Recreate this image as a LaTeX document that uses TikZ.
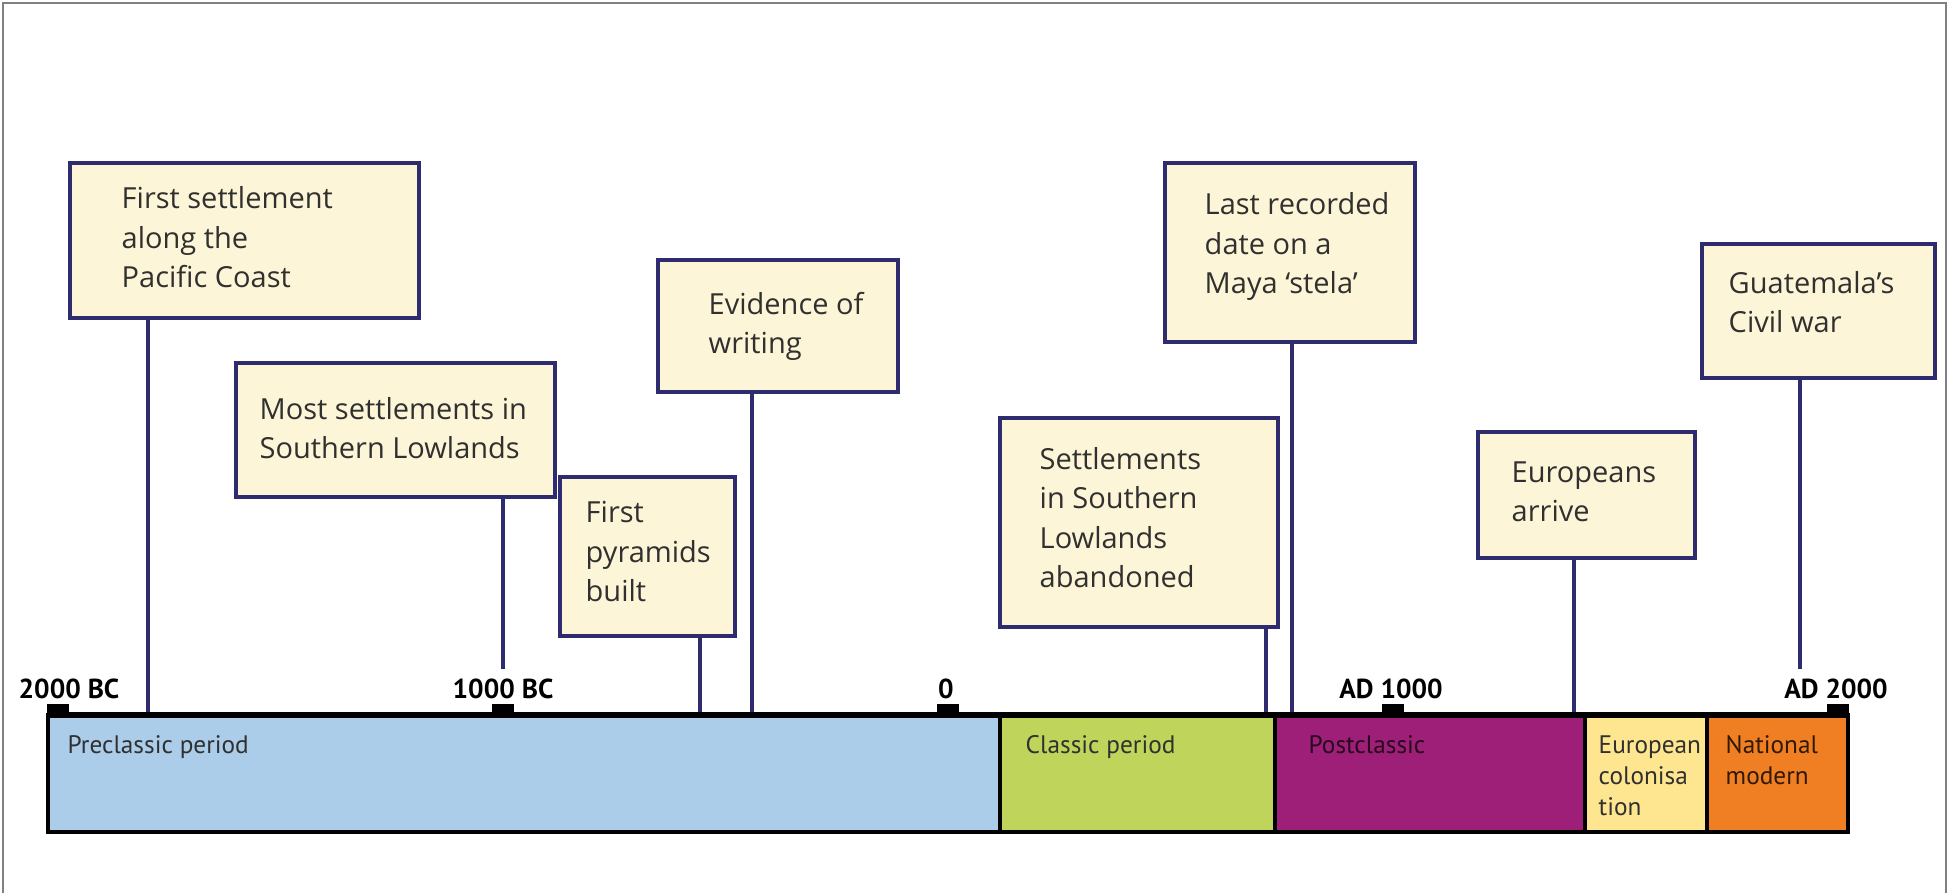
\documentclass[tikz,border=0pt]{standalone}
\usepackage{fontspec}
\usetikzlibrary{positioning}
\newfontfamily\boxfont{Open Sans}
\newfontfamily\periodfont{PT Sans}
\definecolor{boxfill}{HTML}{FDF5D7}
\definecolor{boxline}{HTML}{2E2C6E}
\definecolor{textgray}{HTML}{303030}
\definecolor{preblue}{HTML}{ABCDEA}
\definecolor{classicgreen}{HTML}{BFD45B}
\definecolor{postpurple}{HTML}{9D1F77}
\definecolor{euroyellow}{HTML}{FEE58F}
\definecolor{natorange}{HTML}{F07F23}

\begin{document}
\begin{tikzpicture}[x=0.1mm,y=-0.1mm,
				eventbox/.style={rectangle,draw=boxline,fill=boxfill,line width=0.4mm,outer sep=0pt,anchor=north west},
				eventtext/.style={font=\boxfont\fontsize{8.25}{11.1}\selectfont,text=textgray,align=left,inner sep=0pt},
				period/.style={rectangle,draw=black,line width=0.35mm,outer sep=0pt,minimum height=11.7mm},
				periodtext/.style={font=\periodfont\fontsize{7.2}{8.8}\selectfont,text=textgray,align=left,inner sep=0pt},
				yearlabel/.style={font=\periodfont\bfseries\fontsize{7.8}{9}\selectfont,anchor=base,fill=white,inner xsep=0pt,inner ysep=0.9mm,text depth=0.5mm},
				stem/.style={draw=boxline,line width=0.33mm}]
				\useasboundingbox (0,0) rectangle (1948,893);
				\draw[gray,line width=0.15mm] (3,893) -- (3,3) -- (1946,3) -- (1946,893);
				
				% periods
				\node[period,fill=preblue,minimum width=95.2mm,anchor=north west] (Pre) at (48,715) {};
				\node[period,fill=classicgreen,minimum width=27.5mm,right=0pt of Pre] (Classic) {};
				\node[period,fill=postpurple,minimum width=31mm,right=0pt of Classic] (Post) {};
				\node[period,fill=euroyellow,minimum width=12.2mm,right=0pt of Post] (Colonial) {};
				\node[period,fill=natorange,minimum width=14.1mm,right=0pt of Colonial] (Modern) {};
				
				% base west of a multi-line text is its last baseline
				\node[periodtext,below right=3.8mm and 1.9mm of Pre.north west,anchor=base west] (PreText) {Preclassic period};
				\node[periodtext,below right=3.8mm and 2.5mm of Classic.north west,anchor=base west] (ClassicText) {Classic period};
				\node[periodtext,text=black!75!postpurple,below right=3.8mm and 3.3mm of Post.north west,anchor=base west] (PostText) {Postclassic};
				\node[periodtext,below right=10mm and 1.3mm of Colonial.north west,anchor=base west] (ColonialText) {European\\colonisa\\tion};
				\node[periodtext,text=black!80!natorange,below right=6.9mm and 1.8mm of Modern.north west,anchor=base west] (ModernText) {National\\modern};
				
				% events
				\node[eventbox,minimum width=34.9mm,minimum height=15.5mm] (Settle) at (70,163) {};
				\node[eventbox,minimum width=31.9mm,minimum height=13.4mm] (Most) at (236,363) {};
				\node[eventbox,minimum width=17.5mm,minimum height=15.9mm] (Pyramids) at (560,477) {};
				\node[eventbox,minimum width=24mm,minimum height=13.2mm] (Writing) at (658,260) {};
				\node[eventbox,minimum width=27.8mm,minimum height=20.9mm] (Abandon) at (1000,418) {};
				\node[eventbox,minimum width=25mm,minimum height=17.9mm] (Stela) at (1165,163) {};
				\node[eventbox,minimum width=21.7mm,minimum height=12.6mm] (Europe) at (1478,432) {};
				\node[eventbox,minimum width=23.3mm,minimum height=13.4mm] (Civil) at (1702,244) {};
				
				\node[eventtext,below right=12.4mm and 5.1mm of Settle.north west,anchor=base west] (SettleText) {First settlement\\along the\\Pacific Coast};
				\node[eventtext,below right=9.5mm and 2.3mm of Most.north west,anchor=base west] (MostText) {Most settlements in\\Southern Lowlands};
				\node[eventtext,below right=12.4mm and 2.5mm of Pyramids.north west,anchor=base west] (PyramidsText) {First\\pyramids\\built};
				\node[eventtext,below right=9.3mm and 5mm of Writing.north west,anchor=base west] (WritingText) {Evidence of\\writing};
				\node[eventtext,below right=16.9mm and 3.9mm of Abandon.north west,anchor=base west] (AbandonText) {Settlements\\in Southern\\Lowlands\\abandoned};
				\node[eventtext,below right=13mm and 3.9mm of Stela.north west,anchor=base west] (StelaText) {Last recorded\\date on a\\Maya ‘stela’};
				\node[eventtext,below right=8.9mm and 3.3mm of Europe.north west,anchor=base west] (EuropeText) {Europeans\\arrive};
				\node[eventtext,below right=8.8mm and 2.6mm of Civil.north west,anchor=base west] (CivilText) {Guatemala’s\\Civil war};
				
				% stems down to the time axis
				\coordinate (A1) at (148,715);
				\coordinate (A2) at (503,715);
				\coordinate (A3) at (700,715);
				\coordinate (A4) at (752,715);
				\coordinate (A5) at (1266,715);
				\coordinate (A6) at (1292,715);
				\coordinate (A7) at (1574,715);
				\coordinate (A8) at (1800,715);
				\draw[stem] (Settle.south -| A1) -- (A1)
				(Most.south -| A2) -- (A2)
				(Pyramids.south -| A3) -- (A3)
				(Writing.south -| A4) -- (A4)
				(Abandon.south -| A5) -- (A5)
				(Stela.south -| A6) -- (A6)
				(Europe.south -| A7) -- (A7)
				(Civil.south -| A8) -- (A8);
				
				% time axis with year ticks
				\draw[line width=0.6mm] (Pre.north west) -- (Modern.north east);
				\foreach \lab/\dx [count=\i from 0] in {2000 BC/11,1000 BC/0,0/-2,AD 1000/-2,AD 2000/-2}{
					\node[yearlabel] (Year\i) at ({58+445*\i+\dx},698) {\lab};
					\fill ({58+445*\i-11},704) rectangle ({58+445*\i+11},714);
				}
\end{tikzpicture}
\end{document}
